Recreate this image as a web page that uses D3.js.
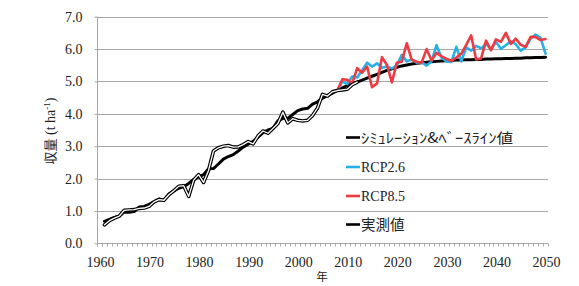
<!DOCTYPE html>
<html>
<head>
<meta charset="utf-8">
<script src="https://cdn.jsdelivr.net/npm/d3@7"></script>
<style>
  body { margin: 0; background: #fff; }
  svg { display: block; }
</style>
</head>
<body>
<svg id="chart" width="579" height="286"></svg>
<script>
// category axis: one slot per year
const firstYear = 1960;
const lastYear = 2050;
const xTickLabels = [1960, 1970, 1980, 1990, 2000, 2010, 2020, 2030, 2040, 2050];
const yTickValues = [0, 1, 2, 3, 4, 5, 6, 7];

// シミュレーション&ベースライン値 (1961-2050)
const simStart = 1961;
const simValues = [
  0.68, 0.74, 0.80, 0.84, 0.97, 0.96, 0.98, 1.12, 1.14, 1.20,
  1.28, 1.37, 1.33, 1.52, 1.62, 1.70, 1.75, 1.85, 1.97, 2.05,
  2.12, 2.30, 2.31, 2.45, 2.60, 2.68, 2.74, 2.85, 2.97, 3.06,
  3.15, 3.28, 3.42, 3.50, 3.55, 3.78, 3.86, 3.86, 3.98, 4.10,
  4.15, 4.17, 4.30, 4.37, 4.48, 4.56, 4.64, 4.72, 4.80, 4.87,
  4.93, 4.98, 5.04, 5.10, 5.16, 5.22, 5.28, 5.34, 5.39, 5.44,
  5.48, 5.51, 5.54, 5.56, 5.58, 5.59, 5.61, 5.62, 5.63, 5.64,
  5.65, 5.66, 5.66, 5.67, 5.67, 5.68, 5.68, 5.69, 5.69, 5.70,
  5.70, 5.71, 5.71, 5.72, 5.72, 5.73, 5.73, 5.74, 5.74, 5.75
];

// RCP2.6 (2008-2050)
const rcp26Start = 2008;
const rcp26Values = [
  4.72, 5.00, 4.92, 5.15, 5.12, 5.35, 5.58, 5.46, 5.56, 5.42,
  5.46, 5.40, 5.50, 5.82, 5.62, 5.68, 5.58, 5.60, 5.49, 5.62,
  6.12, 5.74, 5.62, 5.60, 6.07, 5.62, 6.05, 5.95, 6.10, 6.02,
  6.16, 6.00, 6.22, 6.01, 6.12, 6.24, 6.15, 5.95, 6.05, 6.32,
  6.45, 6.35, 5.86
];

// RCP8.5 (2008-2050)
const rcp85Start = 2008;
const rcp85Values = [
  4.72, 5.07, 5.05, 4.94, 5.41, 5.27, 5.46, 4.82, 4.94, 5.75,
  5.51, 4.97, 5.58, 5.61, 6.18, 5.67, 5.61, 5.58, 6.00, 5.65,
  5.88, 5.78, 5.70, 5.63, 5.74, 5.86, 6.13, 6.42, 5.68, 5.71,
  6.26, 5.96, 6.30, 6.22, 6.50, 6.16, 6.32, 6.13, 6.07, 6.38,
  6.37, 6.28, 6.31
];

// 実測値 (1961-2012)
const obsStart = 1961;
const obsValues = [
  0.57, 0.70, 0.78, 0.84, 1.02, 1.03, 1.04, 1.08, 1.09, 1.14,
  1.28, 1.35, 1.33, 1.50, 1.62, 1.76, 1.78, 1.45, 1.95, 2.12,
  1.88, 2.25, 2.85, 2.95, 3.00, 3.02, 2.97, 2.98, 3.05, 3.14,
  3.07, 3.32, 3.47, 3.40, 3.55, 3.70, 4.05, 3.72, 3.85, 3.80,
  3.78, 3.80, 3.95, 4.18, 4.60, 4.55, 4.68, 4.72, 4.74, 4.76,
  4.90, 4.98
];

const toPoints = (start, values) => values.map((v, i) => ({ year: start + i, value: v }));

const svg = d3.select('#chart');
const x = d3.scaleLinear().domain([firstYear - 0.5, lastYear + 0.5]).range([97, 548]);
const y = d3.scaleLinear().domain([0, 7]).range([243.3, 16.7]);

const gridColor = '#a6a6a6';
const serif = '"Liberation Serif", "Times New Roman", serif';
const jp = '"Noto Sans CJK JP", sans-serif';

// horizontal gridlines
svg.append('g')
  .selectAll('line')
  .data(yTickValues.filter(d => d > 0))
  .join('line')
  .attr('x1', x.range()[0]).attr('x2', x.range()[1])
  .attr('y1', d => Math.round(y(d)) + 0.5).attr('y2', d => Math.round(y(d)) + 0.5)
  .attr('stroke', gridColor).attr('stroke-width', 1);

// y axis
const yAxis = svg.append('g')
  .attr('transform', `translate(${x.range()[0] + 0.5},0)`)
  .call(d3.axisLeft(y).tickValues(yTickValues).tickSize(3).tickFormat(d3.format('.1f')));
yAxis.select('.domain').attr('stroke', gridColor).attr('d', `M0,${y(7)}V${y(0)}`);
yAxis.selectAll('.tick line').attr('stroke', gridColor);
yAxis.selectAll('.tick text')
  .attr('x', -15)
  .style('font-family', serif).style('font-size', '14px').attr('fill', '#222');

// x axis: minor tick at every category boundary, labels every 10 years
const xAxisY = Math.round(y(0)) + 0.5;
const xg = svg.append('g');
xg.append('line')
  .attr('x1', x.range()[0]).attr('x2', x.range()[1])
  .attr('y1', xAxisY).attr('y2', xAxisY)
  .attr('stroke', gridColor);
xg.selectAll('line.tick')
  .data(d3.range(firstYear - 0.5, lastYear + 1, 1))
  .join('line')
  .attr('class', 'tick')
  .attr('x1', d => Math.round(x(d)) + 0.5).attr('x2', d => Math.round(x(d)) + 0.5)
  .attr('y1', xAxisY).attr('y2', xAxisY + 3)
  .attr('stroke', gridColor);
xg.selectAll('text')
  .data(xTickLabels)
  .join('text')
  .attr('x', d => x(d) + 1)
  .attr('y', 266.5)
  .attr('text-anchor', 'middle')
  .style('font-family', serif).style('font-size', '14px').attr('fill', '#222')
  .text(d => d);

// axis titles
svg.append('text')
  .attr('x', 322).attr('y', 281)
  .attr('text-anchor', 'middle')
  .style('font-family', jp).style('font-size', '11.5px').attr('fill', '#222')
  .text('年');

const yTitle = svg.append('text')
  .attr('transform', 'translate(55,131) rotate(-90)')
  .attr('text-anchor', 'middle')
  .attr('fill', '#222');
yTitle.append('tspan').style('font-family', jp).style('font-size', '13px').text('収量');
yTitle.append('tspan').style('font-family', serif).style('font-size', '14px').text(' (t ha');
yTitle.append('tspan').style('font-family', serif).style('font-size', '9px').attr('dy', -5).text('-1');
yTitle.append('tspan').style('font-family', serif).style('font-size', '14px').attr('dy', 5).text(')');

// series
const line = d3.line().x(d => x(d.year)).y(d => y(d.value));
const plot = svg.append('g').attr('fill', 'none')
  .attr('stroke-linejoin', 'round').attr('stroke-linecap', 'round');

plot.append('path').datum(toPoints(simStart, simValues))
  .attr('d', line).attr('stroke', '#000').attr('stroke-width', 3);
plot.append('path').datum(toPoints(rcp26Start, rcp26Values))
  .attr('d', line).attr('stroke', '#26b0e6').attr('stroke-width', 2.6);
plot.append('path').datum(toPoints(rcp85Start, rcp85Values))
  .attr('d', line).attr('stroke', '#ee3a40').attr('stroke-width', 2.6);
const obs = toPoints(obsStart, obsValues);
plot.append('path').datum(obs)
  .attr('d', line).attr('stroke', '#000').attr('stroke-width', 3.6);
plot.append('path').datum(obs)
  .attr('d', line).attr('stroke', '#fff').attr('stroke-width', 1.3);

// legend
const legendItems = [
  { label: 'ｼﾐｭﾚｰｼｮﾝ&ﾍﾞｰｽﾗｲﾝ値', color: '#000', font: jp, size: 14, len: 152 },
  { label: 'RCP2.6', color: '#26b0e6', font: serif, size: 14, len: null },
  { label: 'RCP8.5', color: '#ee3a40', font: serif, size: 14, len: null },
  { label: '実測値', color: '#000', font: jp, size: 14.5, len: null }
];
const legendY = [137.5, 167, 196, 224.5];
const legend = svg.append('g');
legendItems.forEach((item, i) => {
  const gy = legendY[i];
  legend.append('line')
    .attr('x1', 346).attr('x2', 360).attr('y1', gy).attr('y2', gy)
    .attr('stroke', item.color).attr('stroke-width', 2.6);
  const t = legend.append('text')
    .attr('x', 361).attr('y', gy).attr('dy', '0.36em')
    .style('font-family', item.font).style('font-size', item.size + 'px')
    .attr('fill', '#222')
    .text(item.label);
  if (item.len) t.attr('textLength', item.len).attr('lengthAdjust', 'spacingAndGlyphs');
});
</script>
</body>
</html>
